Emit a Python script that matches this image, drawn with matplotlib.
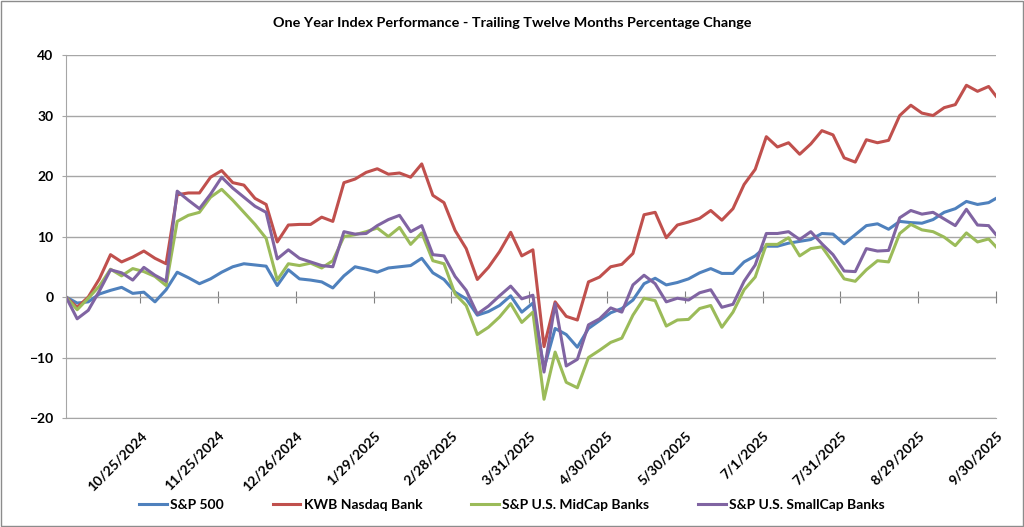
import matplotlib
matplotlib.use("Agg")
import matplotlib.pyplot as plt
from matplotlib.patches import Rectangle

plt.rcParams["font.family"] = ["Lato", "DejaVu Sans"]

# ---------------------------------------------------------
# Data: trailing twelve month % change, read every 3rd trading day
# ---------------------------------------------------------
days = list(range(0, 250, 3)) + [251]

sp500 = [0, -1.0, -0.8, 0.5, 1.1, 1.6, 0.6, 0.8, -0.8, 1.2,
         4.1, 3.2, 2.2, 3.0, 4.1, 5.0, 5.5, 5.3, 5.1, 1.9,
         4.5, 3.0, 2.8, 2.5, 1.5, 3.5, 5.0, 4.6, 4.1, 4.8,
         5.0, 5.2, 6.4, 4.0, 2.9, 0.8, -0.3, -3.0, -2.4, -1.4,
         0.2, -2.5, -1.0, -11.8, -5.2, -6.2, -8.3, -5.2, -3.9, -2.6,
         -1.9, -0.5, 2.2, 3.1, 2.0, 2.4, 3.0, 4.0, 4.7, 3.9,
         3.9, 5.8, 6.8, 8.4, 8.4, 8.9, 9.2, 9.5, 10.5, 10.4,
         8.8, 10.3, 11.8, 12.1, 11.2, 12.5, 12.3, 12.2, 12.8, 14.0,
         14.6, 15.8, 15.3, 15.6, 16.3]

kwb_bank = [0, -1.7, 0.0, 3.0, 7.0, 5.8, 6.6, 7.6, 6.4, 5.5,
            16.9, 17.2, 17.2, 19.8, 20.9, 18.9, 18.5, 16.3, 15.3, 9.1,
            11.9, 12.0, 12.0, 13.2, 12.5, 18.9, 19.5, 20.6, 21.2, 20.3,
            20.5, 19.8, 22.0, 16.8, 15.6, 11.0, 8.0, 2.9, 4.9, 7.5,
            10.7, 6.8, 7.8, -8.2, -0.8, -3.2, -3.8, 2.5, 3.3, 5.0,
            5.4, 7.2, 13.6, 14.0, 9.8, 11.9, 12.4, 13.0, 14.3, 12.7,
            14.6, 18.6, 21.1, 26.5, 24.8, 25.5, 23.6, 25.3, 27.5, 26.8,
            23.0, 22.3, 26.0, 25.5, 25.9, 30.0, 31.7, 30.4, 30.0, 31.3,
            31.8, 35.0, 34.0, 34.8, 33.2]

midcap_banks = [0, -2.1, -0.2, 1.8, 4.6, 3.5, 4.7, 4.2, 3.4, 1.9,
                12.5, 13.5, 14.0, 16.5, 17.8, 16.0, 14.0, 12.0, 9.7, 2.8,
                5.5, 5.2, 5.6, 4.8, 6.0, 10.0, 10.3, 10.8, 11.4, 10.0,
                11.5, 8.7, 10.6, 6.0, 5.5, 0.5, -1.4, -6.2, -5.0, -3.3,
                -1.1, -4.2, -2.5, -16.9, -9.1, -14.1, -15.0, -10.0, -8.8, -7.5,
                -6.8, -3.0, -0.2, -0.6, -4.8, -3.8, -3.7, -1.9, -1.4, -5.0,
                -2.5, 1.2, 3.3, 8.7, 8.7, 9.8, 6.8, 8.0, 8.3, 5.7,
                3.0, 2.6, 4.5, 6.0, 5.8, 10.5, 12.0, 11.1, 10.8, 9.9,
                8.5, 10.6, 9.1, 9.6, 8.3]

smallcap_banks = [0, -3.6, -2.2, 1.0, 4.5, 4.0, 2.8, 4.9, 3.6, 2.6,
                  17.5, 16.0, 14.6, 17.0, 19.8, 18.0, 16.5, 15.0, 14.0, 6.3,
                  7.8, 6.4, 5.8, 5.2, 5.0, 10.8, 10.4, 10.5, 11.8, 12.8,
                  13.5, 10.8, 11.8, 7.0, 6.8, 3.4, 1.1, -2.8, -1.5, 0.2,
                  1.8, -0.3, 0.3, -12.4, -1.1, -11.4, -10.3, -4.6, -3.6, -1.8,
                  -2.5, 2.0, 3.6, 2.2, -0.8, -0.2, -0.5, 0.7, 1.2, -1.7,
                  -1.2, 2.6, 5.3, 10.5, 10.5, 10.8, 9.5, 10.8, 8.8, 7.0,
                  4.3, 4.2, 8.0, 7.6, 7.7, 13.1, 14.3, 13.7, 14.0, 12.9,
                  11.8, 14.5, 11.9, 11.8, 10.3]

series_names = ["S&P 500", "KWB Nasdaq Bank", "S&P U.S. MidCap Banks",
                "S&P U.S. SmallCap Banks"]
series_colors = ["#4F81BD", "#C0504D", "#9BBB59", "#8064A2"]

tick_days = [20, 41, 62, 83, 104, 125, 146, 167, 188, 209, 230, 251]
tick_labels = ["10/25/2024", "11/25/2024", "12/26/2024", "1/29/2025",
               "2/28/2025", "3/31/2025", "4/30/2025", "5/30/2025",
               "7/1/2025", "7/31/2025", "8/29/2025", "9/30/2025"]

# ---------------------------------------------------------
# Figure
# ---------------------------------------------------------
fig = plt.figure(figsize=(10.24, 5.27), dpi=100)
ax = fig.add_axes([0.0645, 0.2068, 0.9082, 0.6888])

grid_col = "#A6A6A6"

for vals, name, col in zip([sp500, kwb_bank, midcap_banks, smallcap_banks],
                           series_names, series_colors):
    ax.plot(days, vals, color=col, lw=2.2, label=name, solid_joinstyle="round")

ax.set_xlim(0, 251)
ax.set_ylim(-20, 40)
ax.set_yticks(range(-20, 41, 10))
ax.yaxis.grid(True, color=grid_col, lw=1)
ax.set_axisbelow(True)

for s in ["top", "right"]:
    ax.spines[s].set_visible(False)
ax.spines["left"].set_color(grid_col)
ax.spines["bottom"].set_color(grid_col)

ax.tick_params(axis="y", length=3, color=grid_col, labelsize=10, pad=6)
for lab in ax.get_yticklabels():
    lab.set_fontweight("bold")

ax.set_xticks(tick_days)
ax.set_xticklabels(tick_labels, rotation=45, ha="right",
                   rotation_mode="anchor", fontsize=10, fontweight="bold")
ax.tick_params(axis="x", length=0, pad=8)

# category axis crossing at zero with its tick marks
zero_axis = ax.secondary_xaxis(1 / 3)
zero_axis.set_xticks(tick_days)
zero_axis.set_xticklabels([])
zero_axis.tick_params(axis="x", direction="inout", length=8, color="#808080")
zero_axis.spines["bottom"].set_color("#808080")

fig.suptitle("One Year Index Performance - Trailing Twelve Months Percentage Change",
             y=0.968, fontsize=10.4, fontweight="bold")

leg = fig.legend(loc="center", bbox_to_anchor=(0.5, 0.042), ncol=4,
                 frameon=False, handlelength=2.0, handletextpad=0.25,
                 columnspacing=3.5, prop={"size": 10, "weight": "bold"})

fig.patches.append(Rectangle((0.0005, 0.001), 0.999, 0.998, transform=fig.transFigure,
                             fill=False, edgecolor="#8C8C8C", lw=1))

fig.savefig("out.png", dpi=100)
